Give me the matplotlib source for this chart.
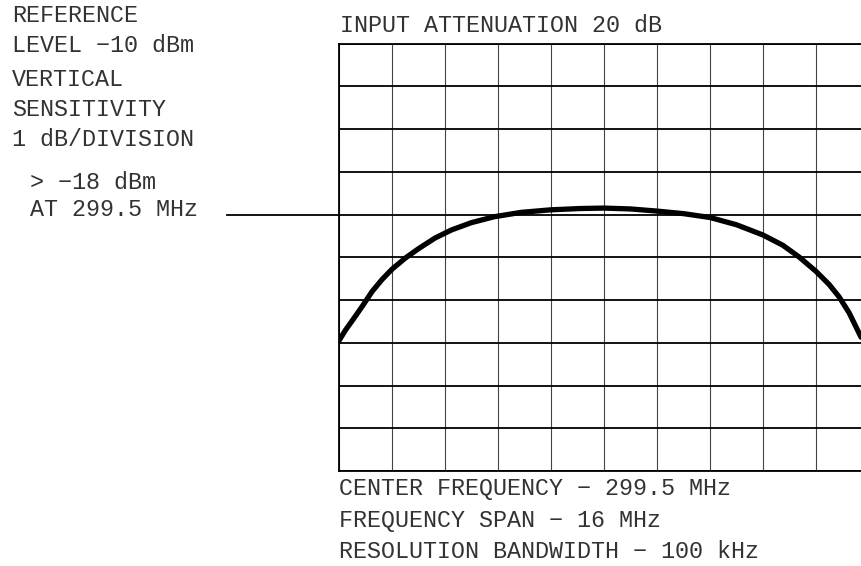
import matplotlib
matplotlib.use('Agg')
import matplotlib.pyplot as plt
import numpy as np

# trace (MHz, dBm)
freq = [291.5, 291.7, 291.93, 292.2, 292.5, 292.8, 293.1, 293.5, 293.9,
        294.4, 294.9, 295.5, 296.2, 297.0, 297.9, 298.8, 299.5, 300.3,
        301.1, 301.9, 302.7, 303.5, 304.3, 304.9, 305.4, 305.9, 306.3,
        306.6, 306.9, 307.26]
level = [-16.95, -16.70, -16.45, -16.15, -15.80, -15.52, -15.28, -15.02, -14.80,
         -14.55, -14.36, -14.19, -14.05, -13.95, -13.89, -13.86, -13.85, -13.87,
         -13.92, -13.98, -14.07, -14.24, -14.48, -14.72, -15.00, -15.33, -15.64,
         -15.93, -16.30, -16.87]

center = 299.5
span = 16.0
ref_level = -10
n_div = 10
marker_level = -14  # pointer line from the "> -18 dBm" note

left_notes = ['REFERENCE', 'LEVEL \u221210 dBm', 'VERTICAL', 'SENSITIVITY',
              '1 dB/DIVISION', '> \u221218 dBm', 'AT 299.5 MHz']
bottom_notes = ['CENTER FREQUENCY \u2212 299.5 MHz',
                'FREQUENCY SPAN \u2212 16 MHz',
                'RESOLUTION BANDWIDTH \u2212 100 kHz']
top_note = 'INPUT ATTENUATION 20 dB'

W, H = 861, 566
fig = plt.figure(figsize=(W / 100, H / 100), dpi=100)
fig.patch.set_facecolor('white')

# axes placed in pixel terms; right border falls just outside the picture
ax = fig.add_axes([339 / W, 1 - 471 / H, 530 / W, 427.5 / H])
f0 = center - span / 2
f1 = center + span / 2
ax.set_xlim(f0, f1)
ax.set_ylim(ref_level - n_div, ref_level)
ax.set_xticks(np.linspace(f0, f1, n_div + 1))
ax.set_yticks(np.arange(ref_level - n_div, ref_level + 1, 1))
ax.tick_params(length=0, labelbottom=False, labelleft=False)
ax.grid(axis='y', color='black', lw=1.3)
ax.grid(axis='x', color='#444444', lw=0.8)
for s in ax.spines.values():
    s.set_color('black')
    s.set_linewidth(1.3)

ax.plot(freq, level, color='black', lw=3.8, solid_capstyle='round',
        solid_joinstyle='round')

# pointer from the note to the graticule
ax.plot([f0 - 112 / 53 * 1.6, f0], [marker_level, marker_level],
        color='black', lw=1.3, clip_on=False)

fam = ['Liberation Mono', 'DejaVu Sans Mono']
tc = '#333333'


def put(x, y, s):
    fig.text(x / W, 1 - y / H, s, ha='left', va='center', fontsize=16.8,
             family=fam, color=tc)


left_pos = [(12, 15), (12, 45), (12, 80), (12, 109), (12, 140),
            (30, 182), (30, 210)]
for (x, y), s in zip(left_pos, left_notes):
    put(x, y, s)

put(340, 25, top_note)
for y, s in zip([489, 521, 551], bottom_notes):
    put(339, y, s)

fig.savefig('out.png', dpi=100, facecolor='white')
